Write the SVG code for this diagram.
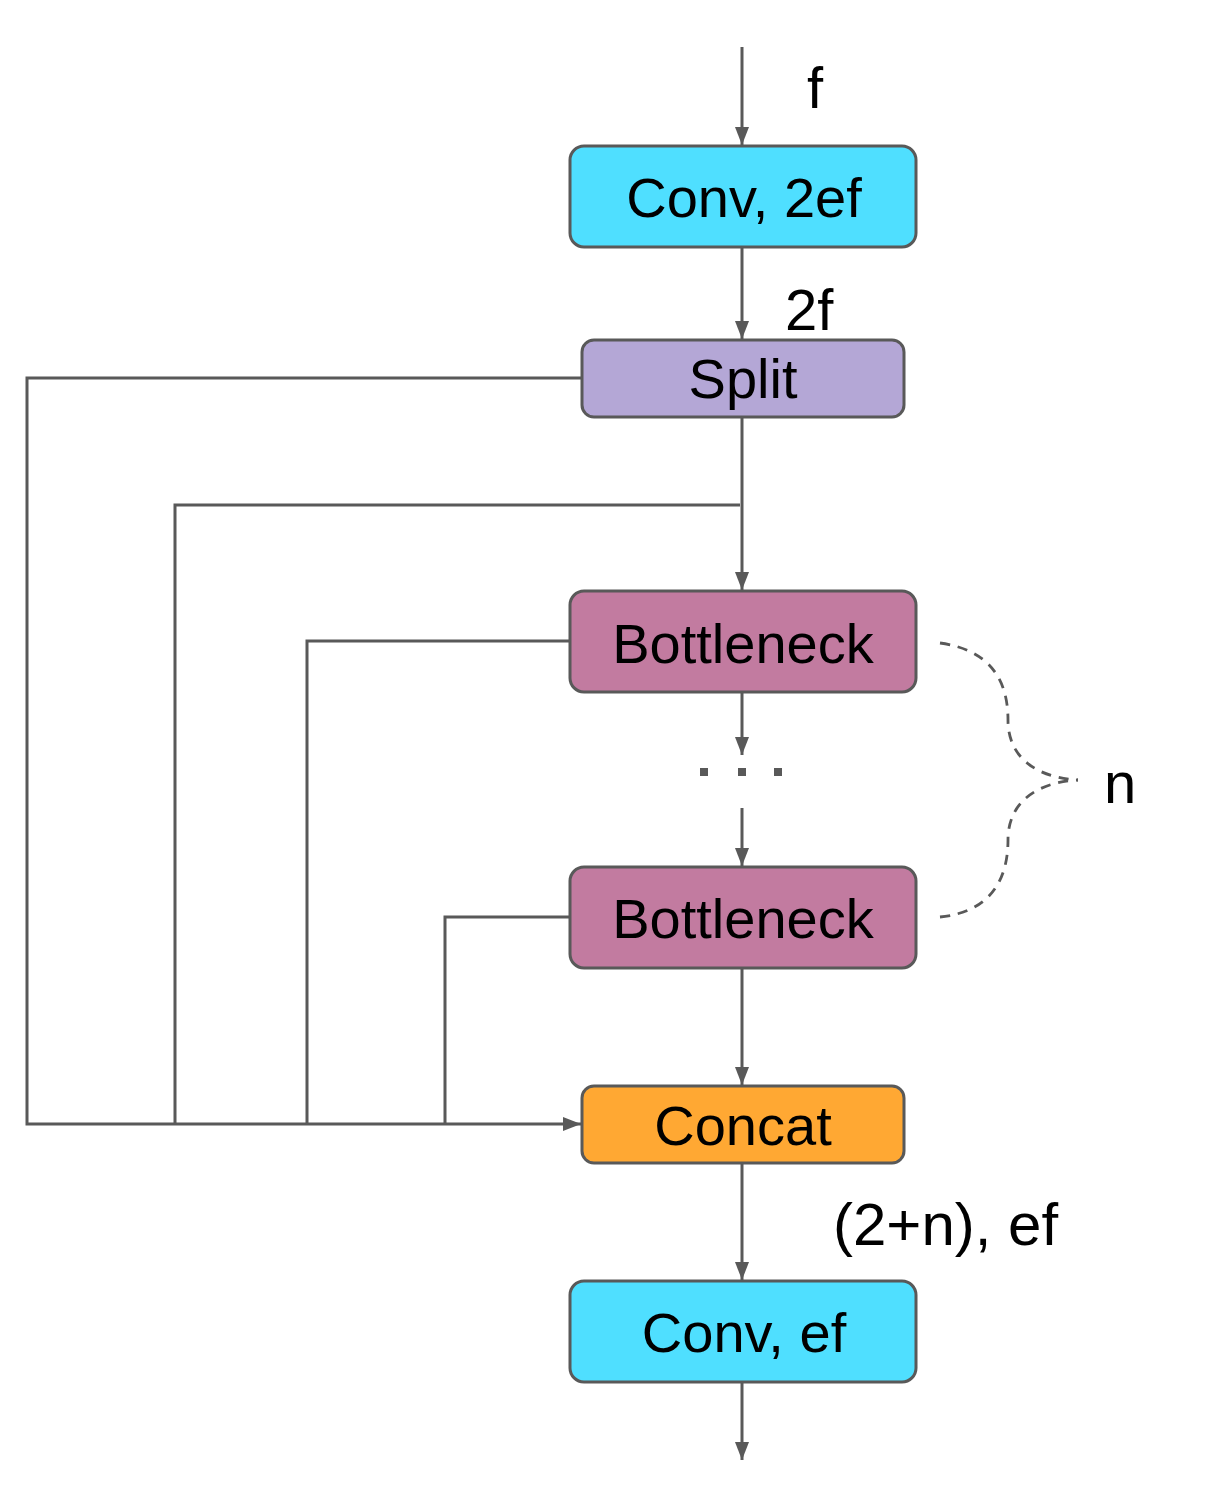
<svg xmlns="http://www.w3.org/2000/svg" width="1209" height="1487" viewBox="0 0 1209 1487">
<defs>
<style>
.box{stroke:#595959;stroke-width:3}
.t{font-family:"Liberation Sans",Arial,sans-serif;font-size:56px;fill:#000;text-anchor:middle}
.l{font-family:"Liberation Sans",Arial,sans-serif;font-size:58px;fill:#000}
.c{fill:none;stroke:#595959;stroke-width:3}
.d{fill:none;stroke:#595959;stroke-width:2.8;stroke-dasharray:10,8}
</style>
<marker id="ah" viewBox="0 0 18 14" refX="18" refY="7" markerWidth="6" markerHeight="4.667" markerUnits="strokeWidth" orient="auto">
<path d="M0,0 L18,7 L0,14 z" fill="#595959"/>
</marker>
</defs>
<rect width="1209" height="1487" fill="#fff"/>
<g id="connectors">
<path class="c" d="M742,47 V145" marker-end="url(#ah)"/>
<path class="c" d="M742,247 V339" marker-end="url(#ah)"/>
<path class="c" d="M742,417 V590" marker-end="url(#ah)"/>
<path class="c" d="M582,378 H27 V1124 H581" marker-end="url(#ah)"/>
<path class="c" d="M740,505 H175 V1124"/>
<path class="c" d="M570,641 H307 V1124"/>
<path class="c" d="M570,917 H445 V1124"/>
<path class="c" d="M742,692 V755" marker-end="url(#ah)"/>
<path class="c" d="M742,808 V866" marker-end="url(#ah)"/>
<path class="c" d="M742,968 V1085" marker-end="url(#ah)"/>
<path class="c" d="M742,1163 V1280" marker-end="url(#ah)"/>
<path class="c" d="M742,1382 V1460" marker-end="url(#ah)"/>
<g fill="#595959">
<rect x="700" y="768" width="8" height="8"/>
<rect x="738" y="768" width="8" height="8"/>
<rect x="774" y="768" width="8" height="8"/>
</g>
<path class="d" d="M940,643 C990,650 1008,680 1008,720 C1008,760 1040,778 1078,780"/>
<path class="d" d="M940,917 C990,912 1008,880 1008,840 C1008,800 1040,782 1078,780"/>
</g>
<g id="conv1">
<rect class="box" x="570" y="146" width="346" height="101" rx="14" fill="#4FDFFF"/>
<text class="t" x="744" y="217">Conv, 2ef</text>
</g>
<g id="split">
<rect class="box" x="582" y="340" width="322" height="77" rx="12" fill="#B4A7D6"/>
<text class="t" x="743" y="398">Split</text>
</g>
<g id="bottleneck1">
<rect class="box" x="570" y="591" width="346" height="101" rx="14" fill="#C27BA0"/>
<text class="t" x="743" y="663">Bottleneck</text>
</g>
<g id="bottleneck2">
<rect class="box" x="570" y="867" width="346" height="101" rx="14" fill="#C27BA0"/>
<text class="t" x="743" y="938">Bottleneck</text>
</g>
<g id="concat">
<rect class="box" x="582" y="1086" width="322" height="77" rx="12" fill="#FFA833"/>
<text class="t" x="743" y="1145">Concat</text>
</g>
<g id="conv2">
<rect class="box" x="570" y="1281" width="346" height="101" rx="14" fill="#4FDFFF"/>
<text class="t" x="744" y="1352">Conv, ef</text>
</g>
<g id="labels">
<text class="l" x="807" y="108">f</text>
<text class="l" x="785" y="330">2f</text>
<text class="l" x="833" y="1245" style="font-size:60px">(2+n), ef</text>
<text class="l" x="1104" y="803">n</text>
</g>
</svg>
